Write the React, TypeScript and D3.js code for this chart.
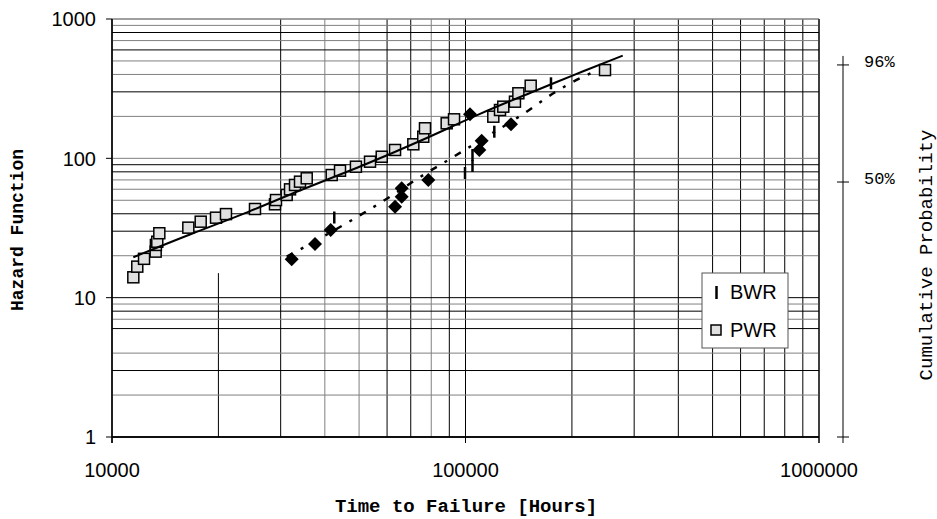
import React from 'react';
import * as d3 from 'd3';

// PWR failure data (squares)
const pwrHours = [11490, 11790, 12320, 13290, 13310, 13430, 13610, 16440, 17820, 19690, 21010, 25380, 28910, 29100, 31200, 31890, 32940, 34030, 35550, 41830, 44160, 48980, 53690, 57940, 63200, 71190, 75950, 76800, 88460, 92800, 119850, 125200, 127900, 138000, 141100, 152900, 248100];
const pwrHazard = [14.0, 16.7, 19.0, 21.4, 23.9, 25.2, 29.0, 31.8, 35.1, 37.5, 39.8, 43.3, 46.8, 50.2, 54.6, 59.9, 64.4, 68.0, 71.9, 75.9, 81.5, 87.1, 94.6, 102.7, 114.8, 126.1, 142.9, 164.3, 178.4, 190.6, 199.0, 222.2, 234.8, 255, 293, 332, 430];

// BWR data (diamonds)
const diamondHours = [32240, 37520, 41560, 63200, 65990, 65990, 78480, 102970, 109400, 111100, 134500];
const diamondHazard = [18.9, 24.3, 30.6, 45.0, 53.0, 61.0, 69.9, 207, 114.8, 133.8, 175.8];

// BWR bar markers
const bwrHours = [42540, 99680, 104660, 104660, 120640, 174500];
const bwrHazard = [37.6, 78.5, 88.1, 105.6, 155.3, 345.5];

// fitted curves
const pwrFitHours = [11490, 16620, 24570, 34020, 49230, 75950, 109900, 155600, 201800, 278500];
const pwrFitHazard = [19.5, 28.6, 41.4, 59.3, 84.8, 135.4, 210.5, 300.8, 396.4, 545.5];
const bwrFitHours = [31200, 39540, 49230, 61140, 75950, 89400, 102970, 148900, 177200, 215400, 235000];
const bwrFitHazard = [19.7, 27.4, 37.8, 53.0, 75.9, 97.3, 121.2, 216.1, 293, 385.4, 425.6];

const xTickValues = [10000, 100000, 1000000];
const yTickValues = [1, 10, 100, 1000];
// right-hand probability scale, placed against the hazard axis
const probLabels = ['96%', '50%', ''];
const probHazard = [468, 67.6, 1];
const probAxisTop = 543;

const legendNames = ['BWR', 'PWR'];

const W = 937;
const H = 519;
const sans = 'Liberation Sans, Arial, sans-serif';
const mono = 'Liberation Mono, Courier New, monospace';

export default function App() {
  const x = d3.scaleLog().domain([1e4, 1e6]).range([112, 819]);
  const y = d3.scaleLog().domain([1, 1000]).range([437, 19]);

  const xGrid: number[] = [];
  [1e4, 1e5].forEach((d) => d3.range(1, 10).forEach((m) => xGrid.push(m * d)));
  xGrid.push(1e6);
  const yGrid: number[] = [];
  [1, 10, 100].forEach((d) => d3.range(1, 10).forEach((m) => yGrid.push(m * d)));
  yGrid.push(1000);

  const grayX = new Set([40000, 80000, 50000]);
  const grayY = new Set([2, 4, 7, 9, 20, 50, 60, 70, 100, 200, 400, 500, 700, 900, 1000]);

  const pwrLine = d3
    .line<number>()
    .x((d, i) => x(pwrFitHours[i]))
    .y((d) => y(d))
    .curve(d3.curveBasis)(pwrFitHazard);
  const bwrLine = d3
    .line<number>()
    .x((d, i) => x(bwrFitHours[i]))
    .y((d) => y(d))
    .curve(d3.curveMonotoneX)(bwrFitHazard);

  const [x0, x1] = x.range();
  const [y0, y1] = y.range();
  const rAxisX = 843;

  return (
    <svg width={W} height={H} style={{ position: 'absolute', left: 0, top: 0, background: '#fff' }}>
      {/* grid */}
      <g>
        {xGrid.map((v) => (
          <line
            key={'x' + v}
            x1={x(v)}
            x2={x(v)}
            y1={v === 20000 ? y(15) : y1}
            y2={y0}
            stroke={grayX.has(v) ? '#808080' : '#000'}
            strokeWidth={1}
          />
        ))}
        {yGrid
          .filter((v) => v !== 5)
          .map((v) => (
            <line
              key={'y' + v}
              x1={x0}
              x2={x1}
              y1={y(v)}
              y2={y(v)}
              stroke={grayY.has(v) ? '#808080' : '#000'}
              strokeWidth={v === 1 || v === 1000 ? 1.5 : 1}
            />
          ))}
        <line x1={x0} x2={x0} y1={y1} y2={y0 + 6} stroke="#000" strokeWidth={1.5} />
        <line x1={x0} x2={x1} y1={y0} y2={y0} stroke="#000" strokeWidth={1.5} />
        <line x1={x1} x2={x1} y1={y1} y2={y0 + 6} stroke="#000" strokeWidth={1} />
        {yTickValues.map((v) => (
          <line key={'yt' + v} x1={x0 - 6} x2={x0} y1={y(v)} y2={y(v)} stroke="#000" />
        ))}
        {xTickValues.map((v) => (
          <line key={'xt' + v} x1={x(v)} x2={x(v)} y1={y0} y2={y0 + 6} stroke="#000" />
        ))}
      </g>

      {/* markers */}
      <g>
        {pwrHours.map((h, i) => (
          <rect
            key={'p' + i}
            x={x(h) - 5.5}
            y={y(pwrHazard[i]) - 5.5}
            width={11}
            height={11}
            fill="#e0e0e0"
            stroke="#000"
            strokeWidth={1.5}
          />
        ))}
        {diamondHours.map((h, i) => {
          const cx = x(h);
          const cy = y(diamondHazard[i]);
          return (
            <path
              key={'d' + i}
              d={`M${cx},${cy - 7}L${cx + 7},${cy}L${cx},${cy + 7}L${cx - 7},${cy}Z`}
              fill="#000"
            />
          );
        })}
        {bwrHours.map((h, i) => (
          <line
            key={'b' + i}
            x1={x(h)}
            x2={x(h)}
            y1={y(bwrHazard[i]) - 6}
            y2={y(bwrHazard[i]) + 6}
            stroke="#000"
            strokeWidth={2.5}
          />
        ))}
      </g>

      {/* fitted lines */}
      <path d={pwrLine || ''} fill="none" stroke="#000" strokeWidth={2} />
      <path d={bwrLine || ''} fill="none" stroke="#000" strokeWidth={2.5} strokeDasharray="7,9,3,9" />

      {/* tick labels */}
      <g fontFamily={sans} fontSize={20} fill="#000">
        {yTickValues.map((v) => (
          <text key={'yl' + v} x={x0 - 16} y={y(v)} dy="0.36em" textAnchor="end">
            {v}
          </text>
        ))}
        {xTickValues.map((v) => (
          <text key={'xl' + v} x={x(v)} y={y0 + 40} textAnchor="middle">
            {v}
          </text>
        ))}
      </g>

      {/* right probability axis */}
      <g>
        <line x1={rAxisX} x2={rAxisX} y1={y(probAxisTop)} y2={y0 + 6} stroke="#000" />
        {probHazard.map((v, i) => (
          <g key={'pr' + i}>
            <line x1={rAxisX - 6} x2={rAxisX + 6} y1={y(v)} y2={y(v)} stroke="#000" />
            <text x={rAxisX + 21} y={y(v)} dy="0.1em" fontFamily={mono} fontSize={17}>
              {probLabels[i]}
            </text>
          </g>
        ))}
      </g>

      {/* axis titles */}
      <text
        transform={`translate(23,230) rotate(-90)`}
        textAnchor="middle"
        fontFamily={mono}
        fontWeight="bold"
        fontSize={18}
      >
        Hazard Function
      </text>
      <text x={466} y={512} textAnchor="middle" fontFamily={mono} fontWeight="bold" fontSize={19}>
        Time to Failure [Hours]
      </text>
      <text
        transform={`translate(932,255) rotate(-90)`}
        textAnchor="middle"
        fontFamily={mono}
        fontSize={19}
      >
        Cumulative Probability
      </text>

      {/* legend */}
      <g>
        <rect x={702} y={273} width={86} height={75} fill="#fff" stroke="#555" strokeWidth={1} />
        {legendNames.map((name, i) => (
          <g key={name} transform={`translate(0,${292 + i * 38})`}>
            {i === 0 ? (
              <line x1={716.5} x2={716.5} y1={-6} y2={7} stroke="#000" strokeWidth={2.5} />
            ) : (
              <rect x={711} y={-5} width={10} height={10} fill="#e0e0e0" stroke="#000" strokeWidth={1.5} />
            )}
            <text x={730} y={0} dy="0.36em" fontFamily={sans} fontSize={20}>
              {name}
            </text>
          </g>
        ))}
      </g>
    </svg>
  );
}
